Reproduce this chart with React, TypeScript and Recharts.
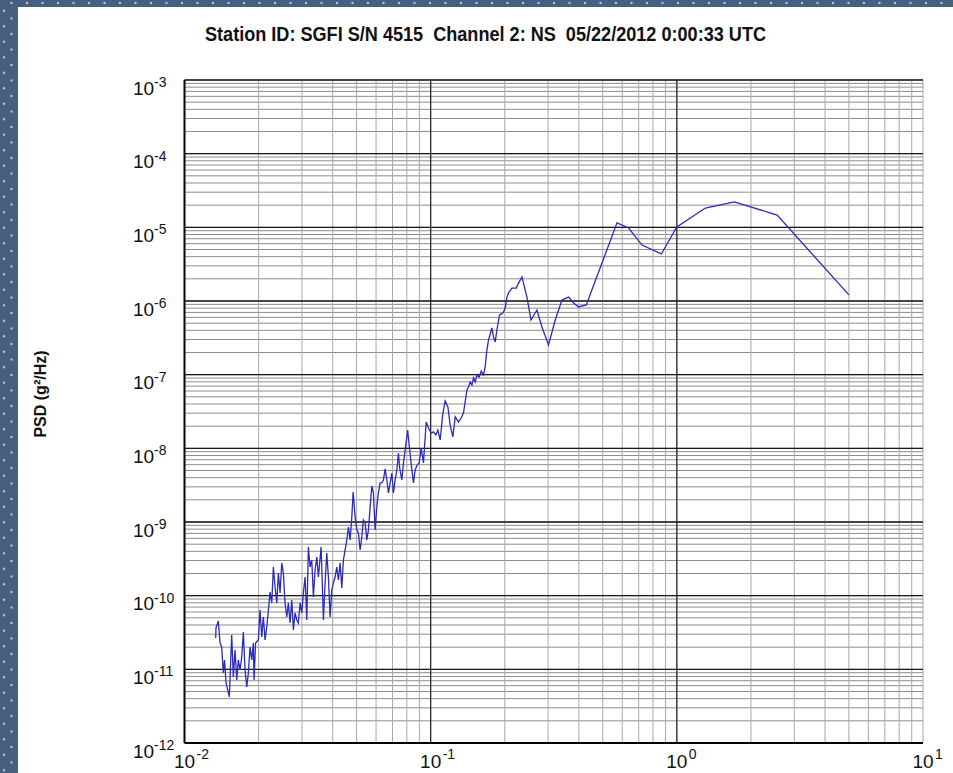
import React from 'react';
import { LineChart, Line, XAxis, YAxis, CartesianGrid, ReferenceLine } from 'recharts';

// PSD estimate, frequency in Hz and power in g^2/Hz
const freqHz = [
  0.01339, 0.01342, 0.01372, 0.01394, 0.01416, 0.01438, 0.01454, 0.01475, 0.01498, 0.01521,
  0.01555, 0.01579, 0.01604, 0.0163, 0.01654, 0.01681, 0.01708, 0.01734, 0.01762, 0.0179,
  0.01817, 0.01846, 0.01876, 0.01904, 0.01917, 0.01944, 0.01995, 0.02027, 0.0206, 0.02091,
  0.02125, 0.02159, 0.02227, 0.02262, 0.02296, 0.02333, 0.02371, 0.02406, 0.02445, 0.02484,
  0.02521, 0.02561, 0.02603, 0.02642, 0.02685, 0.02728, 0.02769, 0.02813, 0.02858, 0.02901,
  0.02948, 0.02995, 0.0304, 0.03089, 0.03139, 0.03186, 0.03237, 0.03289, 0.03339, 0.03392,
  0.03447, 0.03499, 0.03589, 0.03667, 0.03725, 0.03784, 0.03842, 0.03903, 0.03966, 0.04026,
  0.0409, 0.04156, 0.04219, 0.04286, 0.04355, 0.04421, 0.04492, 0.04564, 0.04634, 0.04708,
  0.04783, 0.04842, 0.04933, 0.05012, 0.05088, 0.05169, 0.05252, 0.05331, 0.05417, 0.05503,
  0.05587, 0.05676, 0.05768, 0.05854, 0.05948, 0.06043, 0.06134, 0.06232, 0.06332, 0.06428,
  0.06531, 0.06637, 0.06737, 0.06845, 0.06955, 0.0706, 0.07173, 0.07288, 0.07398, 0.07482,
  0.07637, 0.07752, 0.07877, 0.08064, 0.08216, 0.08372, 0.08514, 0.0865, 0.08814, 0.08981,
  0.0915, 0.09348, 0.09588, 0.09797, 0.1005, 0.1027, 0.105, 0.107, 0.1093, 0.1119,
  0.1145, 0.1175, 0.12, 0.1231, 0.1258, 0.1297, 0.133, 0.1359, 0.1404, 0.1425,
  0.1447, 0.1471, 0.1493, 0.1517, 0.1541, 0.1575, 0.1604, 0.1639, 0.1665, 0.1692,
  0.1718, 0.1737, 0.1773, 0.18, 0.1829, 0.1858, 0.1904, 0.1966, 0.2009, 0.2041,
  0.2072, 0.2138, 0.2227, 0.2275, 0.2349, 0.2461, 0.2555, 0.2702, 0.2831, 0.3012,
  0.3207, 0.3414, 0.3633, 0.3807, 0.3989, 0.4287, 0.5714, 0.6371, 0.7219, 0.865,
  1.0, 1.306, 1.713, 2.555, 5.0,
];

const psd = [
  2.67e-11, 3.64e-11, 4.53e-11, 2.28e-11, 2.01e-11, 8.93e-12, 1.34e-11, 6.53e-12, 5.25e-12, 4.22e-12,
  2.92e-11, 7.87e-12, 1.83e-11, 7.18e-12, 1.34e-11, 9.8e-12, 1.47e-11, 3.21e-11, 9.8e-12, 5.75e-12,
  8.93e-12, 2.01e-11, 1.34e-11, 2.28e-11, 7.18e-12, 2.28e-11, 2.51e-11, 6.4e-11, 2.75e-11, 5.14e-11,
  2.51e-11, 3.76e-11, 1.12e-10, 7.96e-11, 2.45e-10, 1.31e-10, 7.96e-11, 2.03e-10, 1.09e-10, 2.78e-10,
  2.03e-10, 7.96e-11, 5.14e-11, 7.96e-11, 4.26e-11, 8.75e-11, 3.42e-11, 5.82e-11, 4.68e-11, 4.26e-11,
  7.96e-11, 5.82e-11, 1.09e-10, 1.79e-10, 4.68e-11, 4.58e-10, 2.45e-10, 3.05e-10, 9.59e-11, 2.23e-10,
  3.35e-10, 1.79e-10, 4.58e-10, 4.68e-11, 1.49e-10, 3.79e-10, 1.79e-10, 5.14e-11, 1.19e-10, 1.49e-10,
  1.79e-10, 2.45e-10, 1.63e-10, 2.78e-10, 1.27e-10, 3.05e-10, 4.17e-10, 5.7e-10, 8.55e-10, 5.7e-10,
  1.17e-9, 2.55e-9, 1.17e-9, 7.8e-10, 7.1e-10, 4.17e-10, 6.27e-10, 1.06e-9, 9.7e-10, 5.7e-10,
  7.8e-10, 1.6e-9, 3.08e-9, 2.48e-9, 7.8e-10, 1.6e-9, 2.48e-9, 3.39e-9, 3.39e-9, 3.72e-9,
  5.25e-9, 3.72e-9, 2.48e-9, 3.39e-9, 4.62e-9, 2.48e-9, 3.72e-9, 5.08e-9, 8.65e-9, 5.41e-9,
  3.72e-9, 6.32e-9, 9.51e-9, 1.77e-8, 9.51e-9, 5.41e-9, 3.39e-9, 5.08e-9, 5.94e-9, 6.32e-9,
  1.01e-8, 6.32e-9, 2.28e-8, 1.89e-8, 1.61e-8, 1.67e-8, 1.52e-8, 1.77e-8, 1.3e-8, 2.84e-8,
  4.4e-8, 3.64e-8, 2.07e-8, 1.43e-8, 2.67e-8, 2.28e-8, 2.58e-8, 3.02e-8, 6.19e-8, 6.81e-8,
  7.96e-8, 7.24e-8, 9.02e-8, 7.96e-8, 9.91e-8, 9.29e-8, 1.12e-7, 9.91e-8, 1.27e-7, 2.16e-7,
  2.96e-7, 3.35e-7, 4.31e-7, 3.24e-7, 2.78e-7, 4.04e-7, 6.46e-7, 6.87e-7, 8.04e-7, 1.13e-6,
  1.29e-6, 1.5e-6, 1.5e-6, 1.75e-6, 2.12e-6, 1.13e-6, 5.52e-7, 7.55e-7, 4.44e-7, 2.53e-7,
  5.52e-7, 1.03e-6, 1.13e-6, 9.4e-7, 8.3e-7, 8.83e-7, 1.15e-5, 9.8e-6, 5.75e-6, 4.35e-6,
  1.01e-5, 1.83e-5, 2.21e-5, 1.47e-5, 1.21e-6,
];

const xDecades = [0.01, 0.1, 1, 10];
const yDecades = [1e-12, 1e-11, 1e-10, 1e-9, 1e-8, 1e-7, 1e-6, 1e-5, 1e-4, 1e-3];
const minorSteps = [2, 3, 4, 5, 6, 7, 8, 9];

const TITLE = 'Station ID: SGFI S/N 4515  Channel 2: NS  05/22/2012 0:00:33 UTC';
const Y_LABEL = 'PSD (g\u00b2/Hz)';

const FONT = '"Liberation Sans", Arial, sans-serif';

const data = freqHz.map((f, i) => ({ f, psd: psd[i] }));

// decade lines plus the 2..9 lines inside every decade
const withMinors = (decades: number[]) =>
  [...decades, ...decades.slice(0, -1).flatMap(d => minorSteps.map(m => m * d))].sort((a, b) => a - b);

const xTicks = withMinors(xDecades);
const yTicks = withMinors(yDecades);

const decadeExp = (v: number) => {
  const l = Math.log10(v);
  const e = Math.round(l);
  return Math.abs(l - e) < 1e-6 ? e : null;
};

const XTick = ({ x, y, payload }: any) => {
  const e = decadeExp(payload.value);
  if (e === null) return <g />;
  return (
    <g fontFamily={FONT} fill="#111">
      <text x={x} y={y + 25} fontSize={19} textAnchor="middle">10</text>
      <text x={x + 12} y={y + 16} fontSize={14}>{e}</text>
    </g>
  );
};

const YTick = ({ x, y, payload }: any) => {
  const e = decadeExp(payload.value);
  if (e === null) return <g />;
  return (
    <g fontFamily={FONT} fill="#111">
      <text x={x - 51.5} y={y + 14.5} fontSize={19}>10</text>
      <text x={x - 30.5} y={y + 7} fontSize={14}>{e}</text>
    </g>
  );
};

const dots =
  'radial-gradient(circle, #b7c6d9 0 1px, transparent 1.6px)';

export default function App() {
  return (
    <div
      style={{
        position: 'fixed',
        left: 0,
        top: 0,
        width: 953,
        height: 773,
        overflow: 'hidden',
        backgroundColor: '#47607f',
        backgroundImage: `${dots}, ${dots}`,
        backgroundSize: '15.5px 15.5px',
        backgroundPosition: '3.75px -4.75px, -3.75px 3px',
      }}
    >
      <div style={{ position: 'absolute', left: 18, top: 7, width: 935, height: 766, background: '#fff' }}>
        <LineChart
          width={935}
          height={766}
          data={data}
          margin={{ top: 73, right: 30, bottom: 0, left: 106.5 }}
        >
          <CartesianGrid vertical={false} stroke="#8c8c8c" />
          <CartesianGrid horizontal={false} stroke="#a8a8a8" />
          <XAxis
            dataKey="f"
            type="number"
            scale="log"
            domain={[0.01, 10]}
            ticks={xTicks}
            interval={0}
            allowDataOverflow
            tick={XTick}
            tickLine={false}
            tickSize={0}
            tickMargin={0}
            height={30}
            axisLine={{ stroke: '#000', strokeWidth: 2 }}
          />
          <YAxis
            type="number"
            scale="log"
            domain={[1e-12, 1e-3]}
            ticks={yTicks}
            interval={0}
            allowDataOverflow
            tick={YTick}
            tickLine={false}
            tickSize={0}
            tickMargin={0}
            width={60}
            axisLine={{ stroke: '#000', strokeWidth: 2 }}
          />
          {xDecades.slice(1, 3).map(v => (
            <ReferenceLine key={`x${v}`} x={v} stroke="#222" strokeWidth={1.2} />
          ))}
          {yDecades.slice(1).map(v => (
            <ReferenceLine key={`y${v}`} y={v} stroke="#1a1a1a" strokeWidth={1.4} />
          ))}
          <Line
            type="linear"
            dataKey="psd"
            stroke="#2a2ac0"
            strokeWidth={1.3}
            dot={false}
            isAnimationActive={false}
          />
        </LineChart>
        <svg
          width={935}
          height={766}
          style={{ position: 'absolute', left: 0, top: 0, pointerEvents: 'none' }}
        >
          <text
            x={467.5}
            y={34}
            textAnchor="middle"
            fontFamily={FONT}
            fontWeight="bold"
            fontSize={21}
            fill="#111"
            textLength={561}
            lengthAdjust="spacingAndGlyphs"
            style={{ whiteSpace: 'pre' }}
          >
            {TITLE}
          </text>
          <text
            x={28}
            y={387}
            transform="rotate(-90 28 387)"
            textAnchor="middle"
            fontFamily={FONT}
            fontWeight="bold"
            fontSize={16}
            fill="#111"
          >
            {Y_LABEL}
          </text>
        </svg>
      </div>
    </div>
  );
}
